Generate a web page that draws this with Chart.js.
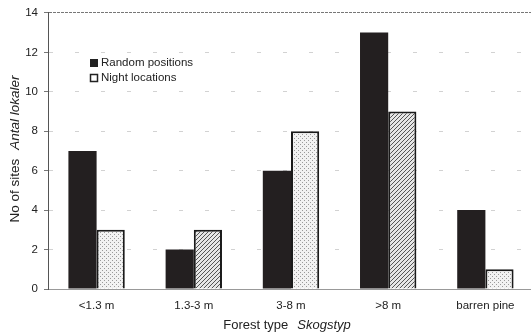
<!DOCTYPE html>
<html>
<head>
<meta charset="utf-8">
<script src="https://cdn.jsdelivr.net/npm/chart.js@4.4.1/dist/chart.umd.min.js"></script>
<style>
  html, body { margin: 0; padding: 0; background: #fff; overflow: hidden; }
  #wrap { width: 536px; height: 335px; }
</style>
</head>
<body>
<div id="wrap"><canvas id="myChart" width="536" height="335"></canvas></div>
<script>
const forestTypes = ["<1.3 m", "1.3-3 m", "3-8 m", ">8 m", "barren pine"];
const randomPositions = [7, 2, 6, 13, 4];
const nightLocations = [3, 3, 8, 9, 1];
const yTicks = [0, 2, 4, 6, 8, 10, 12, 14];

const FONT = "'Liberation Sans', Arial, sans-serif";

// fill patterns for the night bars, like the scanned print
function makeDots() {
  const c = document.createElement("canvas");
  c.width = 4; c.height = 4;
  const g = c.getContext("2d");
  g.fillStyle = "#f2f2f2";
  g.fillRect(0, 0, 4, 4);
  g.fillStyle = "#9a9a9a";
  g.fillRect(0, 0, 1, 1);
  g.fillRect(2, 2, 1, 1);
  return g.createPattern(c, "repeat");
}
function makeHatch() {
  const c = document.createElement("canvas");
  c.width = 4; c.height = 4;
  const g = c.getContext("2d");
  g.fillStyle = "#e6e6e6";
  g.fillRect(0, 0, 4, 4);
  g.strokeStyle = "#555";
  g.lineWidth = 1;
  g.beginPath();
  g.moveTo(-1, 5); g.lineTo(5, -1);
  g.moveTo(-1, 1); g.lineTo(1, -1);
  g.moveTo(3, 5); g.lineTo(5, 3);
  g.stroke();
  return g.createPattern(c, "repeat");
}
const dots = makeDots();
const hatch = makeHatch();
const nightFills = [dots, hatch, dots, hatch, dots];

// split text in a plain and an italic part
function twoPart(ctx, plain, ital, size, x, y) {
  ctx.font = size + "px " + FONT;
  const wa = ctx.measureText(plain).width;
  ctx.font = "italic " + size + "px " + FONT;
  const wb = ctx.measureText(ital).width;
  const gap = 9;
  const x0 = x - (wa + gap + wb) / 2;
  ctx.font = size + "px " + FONT;
  ctx.fillText(plain, x0, y);
  ctx.font = "italic " + size + "px " + FONT;
  ctx.fillText(ital, x0 + wa + gap, y);
}

const overlay = {
  id: "overlay",
  afterDraw(chart) {
    const ctx = chart.ctx;
    ctx.save();
    // legend
    ctx.font = "11.5px " + FONT;
    ctx.textBaseline = "middle";
    ctx.fillStyle = "#222";
    ctx.fillRect(90, 59, 8, 8);
    ctx.strokeStyle = "#222";
    ctx.lineWidth = 1.5;
    ctx.fillStyle = "#fff";
    ctx.fillRect(90.5, 74.5, 7, 7);
    ctx.strokeRect(90.5, 74.5, 7, 7);
    ctx.fillStyle = "#222";
    ctx.textAlign = "left";
    ctx.fillText("Random positions", 101, 63);
    ctx.fillText("Night locations", 101, 78);

    // x title
    ctx.textBaseline = "alphabetic";
    twoPart(ctx, "Forest type", "Skogstyp", 13, 287, 329);

    // y title
    ctx.translate(19, 149);
    ctx.rotate(-Math.PI / 2);
    twoPart(ctx, "No of sites", "Antal lokaler", 13.5, 0, 0);
    ctx.restore();
  }
};

new Chart("myChart", {
  type: "bar",
  data: {
    labels: forestTypes,
    datasets: [
      {
        label: "Random positions",
        data: randomPositions,
        backgroundColor: "#231f20",
        borderColor: "#231f20",
        borderWidth: 0,
        barPercentage: 1.0,
        categoryPercentage: 0.58
      },
      {
        label: "Night locations",
        data: nightLocations,
        backgroundColor: nightFills,
        borderColor: "#1a1a1a",
        borderWidth: { top: 2, right: 2, bottom: 0, left: 2 },
        barPercentage: 1.0,
        categoryPercentage: 0.58
      }
    ]
  },
  options: {
    responsive: false,
    animation: false,
    layout: { padding: { top: 12, right: 2, bottom: 0, left: 0 } },
    plugins: {
      legend: { display: false },
      tooltip: { enabled: false }
    },
    scales: {
      x: {
        afterFit(scale) { scale.height = 46; },
        grid: { display: false, drawTicks: false },
        border: { display: true, color: "#999", width: 1 },
        ticks: {
          color: "#222",
          font: { family: FONT, size: 11.5 },
          padding: 10
        }
      },
      y: {
        min: 0,
        max: 14,
        afterFit(scale) { scale.width = 48; },
        afterBuildTicks(scale) { scale.ticks = yTicks.map(v => ({ value: v })); },
        border: {
          display: true, color: "#555", width: 1,
          dash: ctx => ctx.tick && ctx.tick.value === 14 ? [3, 1] : [4, 22]
        },
        grid: {
          color: ctx => ctx.tick && ctx.tick.value === 14 ? "#777" : "#d2d2d2",
          lineWidth: 1,
          tickLength: 4,
          tickColor: "#777",
          tickBorderDash: []
        },
        ticks: {
          color: "#222",
          font: { family: FONT, size: 11.5 },
          padding: 6
        }
      }
    }
  },
  plugins: [overlay]
});
</script>
</body>
</html>
